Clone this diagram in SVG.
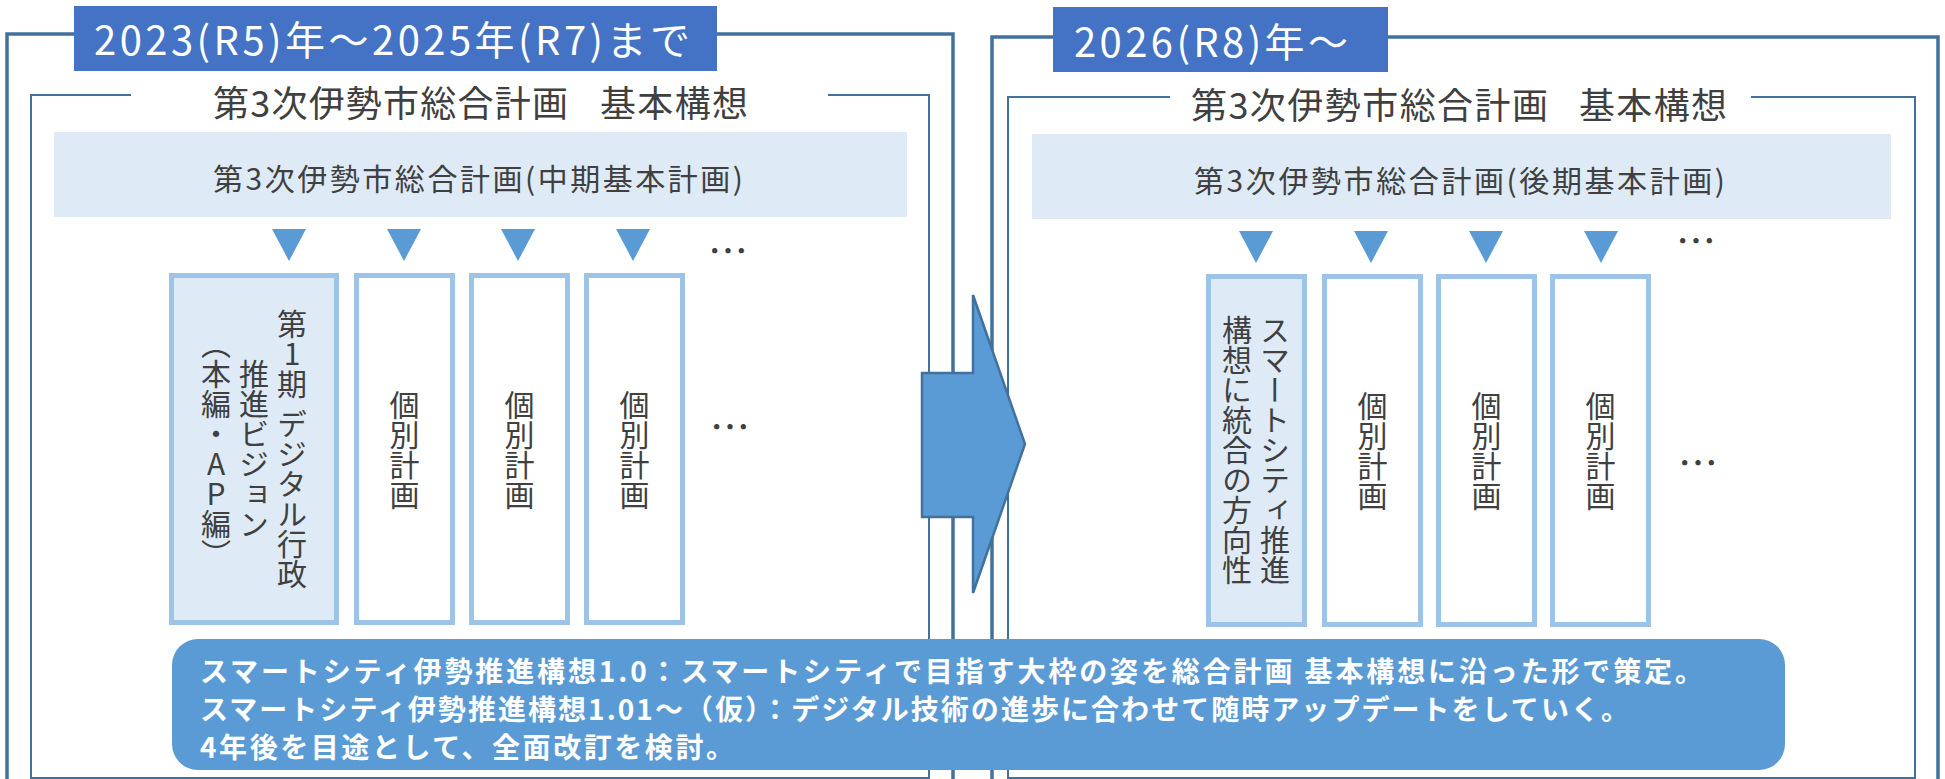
<svg xmlns="http://www.w3.org/2000/svg" width="1945" height="779" viewBox="0 0 1945 779">
<style>
.outer{fill:none;stroke:#41719C;stroke-width:3.5}
.inner{fill:none;stroke:#41719C;stroke-width:2}
.hdr{fill:#4472C4}
.hdrt{fill:#fff;font-family:"Noto Sans CJK JP","Noto Sans",sans-serif;font-size:40px}
.ttl{fill:#404040;font-family:"Noto Sans CJK JP","Noto Sans",sans-serif;font-size:36px}
.band{fill:#DEEBF7}
.bandt{fill:#404040;font-family:"Noto Sans CJK JP","Noto Sans",sans-serif;font-size:30px}
.col{fill:#fff;stroke:#9DC3E6;stroke-width:5}
.colf{fill:#DEEBF7;stroke:#9DC3E6;stroke-width:5}
.vt{fill:#404040;font-family:"Noto Sans CJK JP","Noto Sans",sans-serif;font-size:30px;writing-mode:vertical-rl;text-orientation:upright;text-anchor:middle}
.tri{fill:#5B9BD5}
.dots{fill:#404040;font-family:"Noto Sans CJK JP","Noto Sans",sans-serif;font-size:40px}
.arrow{fill:#5B9BD5;stroke:#41719C;stroke-width:2.5}
.note{fill:#5B9BD5}
.notet{fill:#fff;font-family:"Noto Sans CJK JP","Noto Sans",sans-serif;font-size:28px;font-weight:bold}
</style>
<rect width="1945" height="779" fill="#fff"/>
<g id="panel-left">
  <path class="outer" d="M7,781 V34 H953 V781"/>
  <path class="inner" d="M131,95 H31 V778 H929 V95 H828"/>
  <rect class="hdr" x="74" y="6" width="643" height="65"/>
  <text class="hdrt" x="94" y="55" textLength="596">2023(R5)年～2025年(R7)まで</text>
  <text class="ttl" y="117"><tspan x="213" textLength="355">第3次伊勢市総合計画</tspan><tspan x="600" textLength="148">基本構想</tspan></text>
  <rect class="band" x="54" y="132" width="853" height="85"/>
  <text class="bandt" x="213" y="190" textLength="530">第3次伊勢市総合計画(中期基本計画)</text>
</g>
<g id="panel-right">
  <path class="outer" d="M992,781 V37 H1938 V781"/>
  <path class="inner" d="M1170,97 H1008 V778 H1915 V97 H1751"/>
  <rect class="hdr" x="1053" y="7" width="335" height="65"/>
  <text class="hdrt" x="1074" y="57" textLength="274">2026(R8)年～</text>
  <text class="ttl" y="119"><tspan x="1191" textLength="357">第3次伊勢市総合計画</tspan><tspan x="1579" textLength="148">基本構想</tspan></text>
  <rect class="band" x="1032" y="134" width="859" height="85"/>
  <text class="bandt" x="1194" y="192" textLength="531">第3次伊勢市総合計画(後期基本計画)</text>
</g>
<g id="left-col1">
  <rect class="colf" x="171.5" y="275.5" width="165" height="347"/>
  <text class="vt" x="292" y="449">第1期<tspan font-size="10px"> </tspan>デジタル行政</text>
  <text class="vt" x="254" y="449">推進ビジョン</text>
  <text class="vt" x="216" y="449">（本編・AP編）</text>
</g>
<g id="left-col2">
  <rect class="col" x="356.5" y="275.5" width="96" height="347"/>
  <text class="vt" x="404.5" y="450">個別計画</text>
</g>
<g id="left-col3">
  <rect class="col" x="471.5" y="275.5" width="96" height="347"/>
  <text class="vt" x="519.5" y="450">個別計画</text>
</g>
<g id="left-col4">
  <rect class="col" x="586.5" y="275.5" width="96" height="347"/>
  <text class="vt" x="634.5" y="450">個別計画</text>
</g>
<g id="left-dots">
  <text class="dots" x="708" y="266">…</text>
  <text class="dots" x="710" y="442">…</text>
</g>
<g id="right-col1">
  <rect class="colf" x="1208.5" y="276.5" width="96" height="348"/>
  <text class="vt" x="1275" y="450">スマートシティ推進</text>
  <text class="vt" x="1237" y="450">構想に統合の方向性</text>
</g>
<g id="right-col2">
  <rect class="col" x="1324.5" y="276.5" width="96" height="348"/>
  <text class="vt" x="1372.5" y="451">個別計画</text>
</g>
<g id="right-col3">
  <rect class="col" x="1438.5" y="276.5" width="96" height="348"/>
  <text class="vt" x="1486.5" y="451">個別計画</text>
</g>
<g id="right-col4">
  <rect class="col" x="1552.5" y="276.5" width="96" height="348"/>
  <text class="vt" x="1600.5" y="451">個別計画</text>
</g>
<g id="right-dots">
  <text class="dots" x="1676" y="256">…</text>
  <text class="dots" x="1678" y="478">…</text>
</g>
<g id="connectors">
  <polygon class="tri" points="272,229 306,229 289,261"/>
  <polygon class="tri" points="387,229 421,229 404,261"/>
  <polygon class="tri" points="501,229 535,229 518,261"/>
  <polygon class="tri" points="616,229 650,229 633,261"/>
  <polygon class="tri" points="1239,231 1273,231 1256,263"/>
  <polygon class="tri" points="1354,231 1388,231 1371,263"/>
  <polygon class="tri" points="1469,231 1503,231 1486,263"/>
  <polygon class="tri" points="1584,231 1618,231 1601,263"/>
  <polygon class="arrow" points="922,373 973,373 973,295 1025,444 973,593 973,517 922,517"/>
</g>
<g id="note">
  <rect class="note" x="172" y="639" width="1613" height="131" rx="26" ry="26"/>
  <text class="notet" x="200" y="682" textLength="1503">スマートシティ伊勢推進構想1.0：スマートシティで目指す大枠の姿を総合計画 基本構想に沿った形で策定。</text>
  <text class="notet" x="200" y="720" textLength="1429">スマートシティ伊勢推進構想1.01～（仮）：デジタル技術の進歩に合わせて随時アップデートをしていく。</text>
  <text class="notet" x="200" y="758" textLength="534">4年後を目途として、全面改訂を検討。</text>
</g>
</svg>
